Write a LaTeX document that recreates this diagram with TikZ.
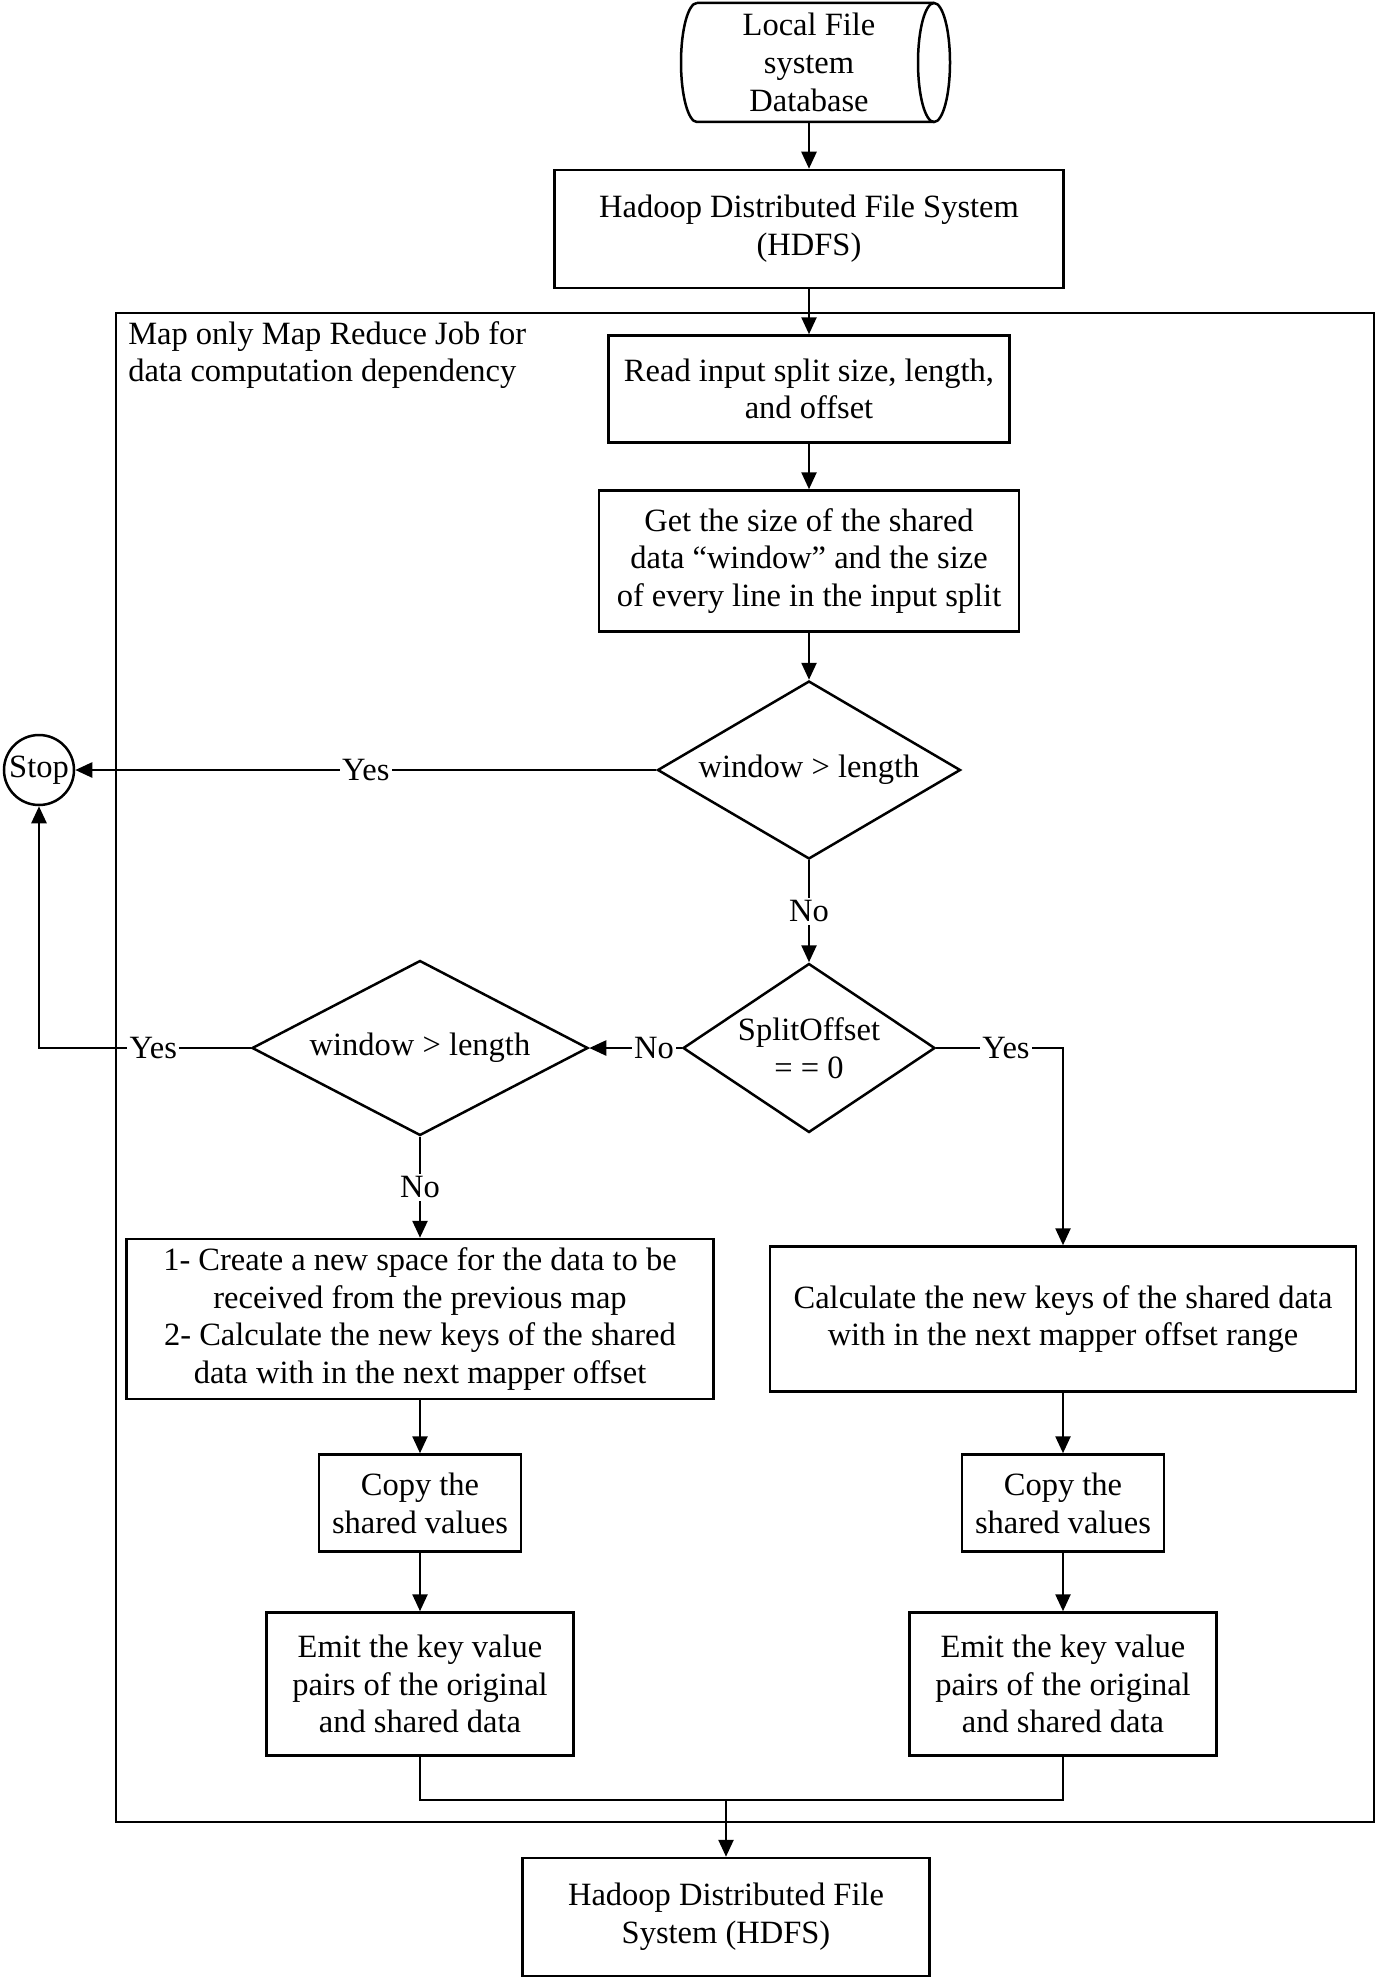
\documentclass[tikz,border=0pt]{standalone}
\usepackage{fontspec}
\setmainfont{Liberation Serif}
\usetikzlibrary{shapes.geometric,arrows.meta}
\newcommand{\px}{0.4pt}

\begin{document}
\begin{tikzpicture}[x=0.4pt, y=-0.4pt, line width=1pt,
  every node/.style={font=\fontsize{13}{15.1}\selectfont, align=center, inner sep=1pt},
  box/.style={draw, rectangle},
  decision/.style={draw, diamond, inner sep=0pt},
  arr/.style={-{Triangle[length=6.8pt, width=6pt]}},
  lbl/.style={fill=white, inner sep=1pt}]
  \useasboundingbox (0,0) rectangle (1379,1979);

  \node[draw, minimum width=1258*\px, minimum height=1509*\px] (mapjob) at (745,1067.5) {};
  \node[anchor=north west, align=left, inner sep=0pt] (joblabel) at (127,320) {Map only Map Reduce Job for\\data computation dependency};

  \node[minimum width=250*\px, minimum height=119*\px] (db) at (809,62.5) {Local File\\system\\Database};
  \draw (697,3) -- (934,3) (934,122) -- (697,122)
        arc[start angle=90, end angle=270, x radius=16, y radius=59.5];
  \draw (934,62.5) ellipse [x radius=16, y radius=59.5];
  \node[box, minimum width=509*\px, minimum height=118*\px] (hdfsin) at (809,229) {Hadoop Distributed File System\\(HDFS)};
  \node[box, minimum width=401*\px, minimum height=107*\px] (readsplit) at (809,389) {Read input split size, length,\\and offset};
  \node[box, minimum width=420*\px, minimum height=141*\px] (getsize) at (809,561) {Get the size of the shared\\data “window” and the size\\of every line in the input split};
  \node[decision, aspect=1.7, minimum width=303*\px, minimum height=178*\px] (winA) at (809,770) {window > length};
  \node[draw, circle, minimum size=70*\px, inner sep=0.5pt] (stop) at (39,770) {Stop};
  \node[decision, aspect=1.5, minimum width=252*\px, minimum height=169*\px] (offset) at (809,1048) {SplitOffset\\= = 0};
  \node[decision, aspect=1.9, minimum width=336*\px, minimum height=175*\px] (winB) at (420,1048) {window > length};

  \node[box, minimum width=587*\px, minimum height=160*\px] (calcL) at (420,1319) {1- Create a new space for the data to be\\received from the previous map\\2- Calculate the new keys of the shared\\data with in the next mapper offset};
  \node[box, minimum width=586*\px, minimum height=145*\px] (calcR) at (1063,1319) {Calculate the new keys of the shared data\\with in the next mapper offset range};
  \node[box, minimum width=202*\px, minimum height=97*\px] (copyL) at (420,1503) {Copy the\\shared values};
  \node[box, minimum width=202*\px, minimum height=97*\px] (copyR) at (1063,1503) {Copy the\\shared values};
  \node[box, minimum width=307*\px, minimum height=143*\px] (emitL) at (420,1684) {Emit the key value\\pairs of the original\\and shared data};
  \node[box, minimum width=307*\px, minimum height=143*\px] (emitR) at (1063,1684) {Emit the key value\\pairs of the original\\and shared data};
  \node[box, minimum width=407*\px, minimum height=118*\px] (hdfsout) at (726,1917) {Hadoop Distributed File\\System (HDFS)};
  \coordinate (join) at (726,1800);

  \draw[arr] (db) -- (hdfsin);
  \draw[arr] (hdfsin) -- (readsplit);
  \draw[arr] (readsplit) -- (getsize);
  \draw[arr] (getsize) -- (winA);
  \draw[arr] (winA) -- node[lbl] {Yes} (stop);
  \draw[arr] (winA) -- node[lbl] {No} (offset);
  \draw[arr] (offset) -- node[lbl, pos=0.3] {No} (winB);
  \draw[arr] (winB) -| node[lbl, pos=0.23] {Yes} (stop);
  \draw[arr] (offset) -| node[lbl, pos=0.275] {Yes} (calcR);
  \draw[arr] (winB) -- node[lbl] {No} (calcL);
  \draw[arr] (calcL) -- (copyL);
  \draw[arr] (copyL) -- (emitL);
  \draw[arr] (calcR) -- (copyR);
  \draw[arr] (copyR) -- (emitR);
  \draw (emitL) |- (join) -| (emitR);
  \draw[arr] (join) -- (hdfsout);
\end{tikzpicture}
\end{document}
